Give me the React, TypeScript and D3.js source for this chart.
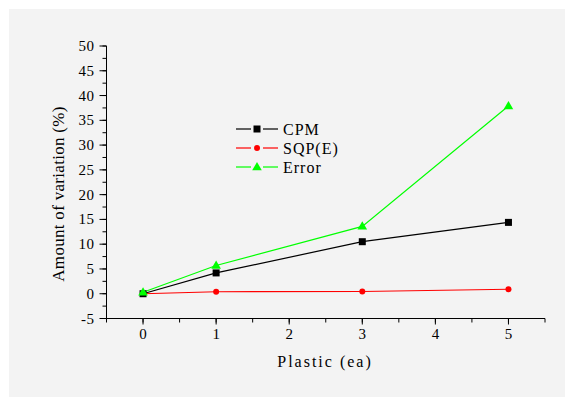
import React from 'react';
import * as d3 from 'd3';

// data
const plastic = [0, 1, 3, 5];
const cpm = [0, 4.2, 10.5, 14.4];
const sqp = [0, 0.4, 0.45, 0.9];
const errorVals = [0.3, 5.7, 13.6, 37.9];

const xTicks = [0, 1, 2, 3, 4, 5];
const yTicks = [-5, 0, 5, 10, 15, 20, 25, 30, 35, 40, 45, 50];

const seriesNames = ['CPM', 'SQP(E)', 'Error'];
const seriesColors = ['#000000', '#ff0000', '#00ff00'];
const seriesShapes = ['square', 'circle', 'triangle'];

const W = 565;
const H = 397;
const FONT = '"Liberation Serif", serif';

const x = d3.scaleLinear().domain([-0.5, 5.5]).range([106.5, 545]);
const y = d3.scaleLinear().domain([-5, 50]).range([318.5, 46]);
const X0 = x.range()[0];
const Y0 = y.range()[0];

const xMinor = d3.range(-0.5, 5.51, 0.5);
const yMinor = d3.range(-5, 50.1, 2.5);

const tri = d3.symbol().type(d3.symbolTriangle).size(40)() as string;

const Marker = ({ shape, color, cx, cy }: { shape: string; color: string; cx: number; cy: number }) => {
  if (shape === 'square') return <rect x={cx - 3.5} y={cy - 3.5} width={7} height={7} fill={color} />;
  if (shape === 'circle') return <circle cx={cx} cy={cy} r={3} fill={color} />;
  return <path transform={`translate(${cx},${cy + 0.5})`} d={tri} fill={color} />;
};

const App = () => {
  const allSeries = [cpm, sqp, errorVals];
  const line = d3.line<number>().x((_, i) => x(plastic[i])).y(d => y(d));
  const order = [1, 0, 2];

  return (
    <svg width={W} height={H} style={{ position: 'absolute', left: 0, top: 0, background: '#fff' }}>
      <rect x={9} y={9} width={W - 9} height={H - 9} fill="#f3f3f3" />

      {/* axes */}
      <g stroke="#000" strokeWidth={1} fill="none">
        <line x1={X0} x2={x.range()[1]} y1={Y0} y2={Y0} />
        <line x1={X0} x2={X0} y1={Y0} y2={y.range()[1]} />
        {xMinor.map(t => <line key={'xm' + t} x1={x(t)} x2={x(t)} y1={Y0} y2={Y0 + 4} />)}
        {yMinor.map(t => <line key={'ym' + t} x1={X0 - 4} x2={X0} y1={y(t)} y2={y(t)} />)}
        {xTicks.map(t => <line key={'xt' + t} x1={x(t)} x2={x(t)} y1={Y0} y2={Y0 + 6} />)}
        {yTicks.map(t => <line key={'yt' + t} x1={X0 - 7} x2={X0} y1={y(t)} y2={y(t)} />)}
      </g>

      <g style={{ fontFamily: FONT, fontSize: '15px' }} fill="#000">
        {xTicks.map(t => (
          <text key={'xl' + t} x={x(t)} y={Y0 + 20} textAnchor="middle">{String(t)}</text>
        ))}
        {yTicks.map(t => (
          <text key={'yl' + t} x={X0 - 12} y={y(t) + 5} textAnchor="end" letterSpacing={0.5}>{String(t)}</text>
        ))}
      </g>

      <text x={325} y={367} textAnchor="middle" letterSpacing={2} style={{ fontFamily: FONT, fontSize: '16px' }}>
        Plastic (ea)
      </text>
      <text transform="translate(64,194) rotate(-90)" textAnchor="middle" letterSpacing={0.3} style={{ fontFamily: FONT, fontSize: '17px' }}>
        Amount of variation (%)
      </text>

      {/* series */}
      {order.map(si => (
        <path key={'l' + si} d={line(allSeries[si]) as string} fill="none" stroke={seriesColors[si]} strokeWidth={1.2} />
      ))}
      {order.map(si => (
        <g key={'m' + si}>
          {allSeries[si].map((v, i) => (
            <Marker key={i} shape={seriesShapes[si]} color={seriesColors[si]} cx={x(plastic[i])} cy={y(v)} />
          ))}
        </g>
      ))}

      {/* legend */}
      {seriesNames.map((name, i) => {
        const ly = 129 + i * 19;
        const c = seriesColors[i];
        return (
          <g key={name}>
            <line x1={236} x2={251} y1={ly} y2={ly} stroke={c} strokeWidth={1.2} />
            <line x1={263} x2={278} y1={ly} y2={ly} stroke={c} strokeWidth={1.2} />
            <Marker shape={seriesShapes[i]} color={c} cx={257} cy={ly} />
            <text x={283} y={ly + 5.5} letterSpacing={1} style={{ fontFamily: FONT, fontSize: '16px' }}>{name}</text>
          </g>
        );
      })}
    </svg>
  );
};

export default App;
